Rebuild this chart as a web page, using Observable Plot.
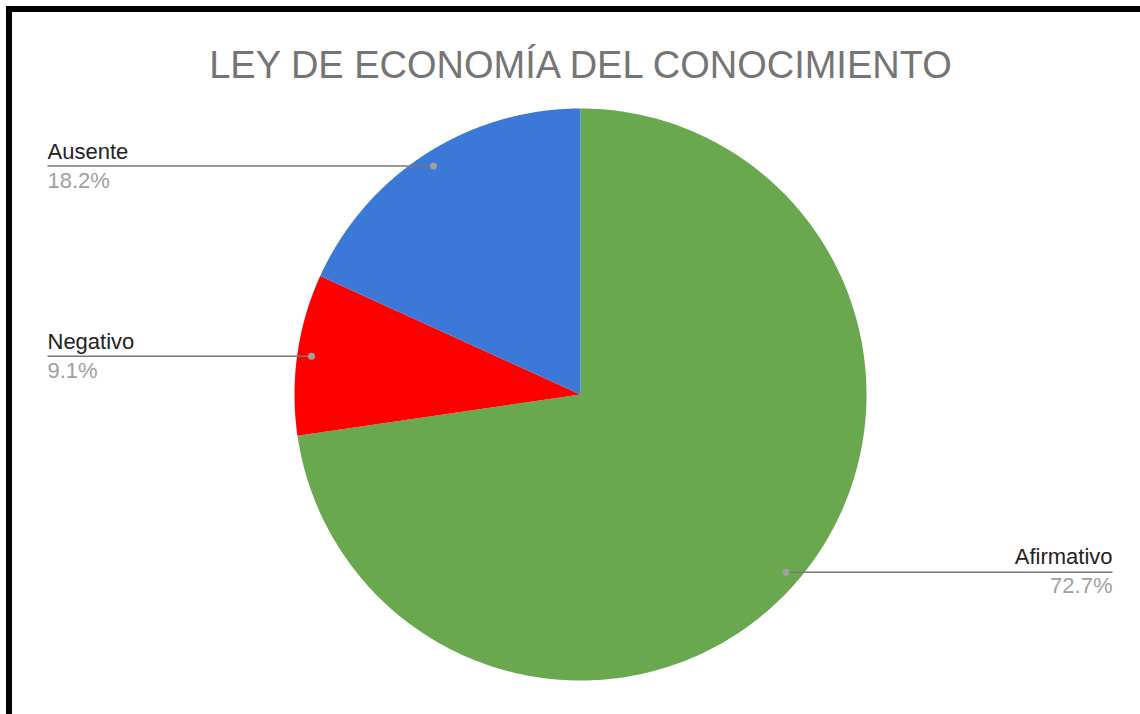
<!DOCTYPE html>
<html>
<head>
<meta charset="utf-8">
<script src="https://cdn.jsdelivr.net/npm/d3@7"></script>
<script src="https://cdn.jsdelivr.net/npm/@observablehq/plot@0.6"></script>
<style>
  html, body { margin: 0; padding: 0; background: #fff; }
  #wrap { position: relative; width: 1140px; height: 714px; overflow: hidden; }
  #wrap svg { position: absolute; left: 0; top: 0; }
  .bt { position: absolute; left: 6px; top: 6px; width: 1200px; height: 6px; background: #000; }
  .bl { position: absolute; left: 6px; top: 6px; width: 6px; height: 800px; background: #000; }
</style>
</head>
<body>
<div id="wrap"><div class="bt"></div><div class="bl"></div></div>
<script>
const title = "LEY DE ECONOMÍA DEL CONOCIMIENTO";
const categories = ["Afirmativo", "Negativo", "Ausente"];
const values = [72.7, 9.1, 18.2];
const percentLabels = ["72.7%", "9.1%", "18.2%"];
const colors = ["#6aa84f", "#ff0000", "#3c78d8"];

// layout (pixels)
const CX = 580, CY = 394, R = 286;
const LEFT_LABEL_X = 47, RIGHT_LABEL_X = 1112;
const px2x = p => (p - CX) / R;

const data = categories.map((name, i) => ({name, value: values[i], pct: percentLabels[i], color: colors[i]}));
const arcs = d3.pie().sort(null).value(d => d.value)(data);

const sliceMarks = arcs.map(a => {
  const pts = [[0, 0]];
  const n = 240;
  for (let k = 0; k <= n; k++) {
    const t = a.startAngle + (a.endAngle - a.startAngle) * k / n;
    pts.push([Math.sin(t), Math.cos(t)]);
  }
  pts.push([0, 0]);
  return Plot.line(pts, {x: d => d[0], y: d => d[1], fill: a.data.color, stroke: "none", curve: "linear"});
});

const labels = arcs.map(a => {
  const mid = (a.startAngle + a.endAngle) / 2;
  const ax = 0.95 * Math.sin(mid), ay = 0.95 * Math.cos(mid);
  const left = ax < 0;
  return {name: a.data.name, pct: a.data.pct, ax, ay, left, tx: px2x(left ? LEFT_LABEL_X : RIGHT_LABEL_X)};
});
const leftL = labels.filter(d => d.left), rightL = labels.filter(d => !d.left);

const font = "'Liberation Sans', Arial, sans-serif";

const chart = Plot.plot({
  width: 1140,
  height: 714,
  margin: 0,
  x: {domain: [-1, 1], range: [CX - R, CX + R], axis: null},
  y: {domain: [-1, 1], range: [CY + R, CY - R], axis: null},
  style: {fontFamily: font, background: "transparent"},
  marks: [
    ...sliceMarks,
    Plot.link(labels, {x1: "tx", y1: "ay", x2: "ax", y2: "ay", stroke: "#777", strokeWidth: 1.6}),
    Plot.dot(labels, {x: "ax", y: "ay", r: 3.5, fill: "#a0a0a0", stroke: "none"}),
    Plot.text(leftL, {x: "tx", y: "ay", text: "name", textAnchor: "start", lineAnchor: "bottom", dy: -7, fontSize: 22, fill: "#222"}),
    Plot.text(leftL, {x: "tx", y: "ay", text: "pct", textAnchor: "start", lineAnchor: "bottom", dy: 22, fontSize: 22, fill: "#a0a0a0"}),
    Plot.text(rightL, {x: "tx", y: "ay", text: "name", textAnchor: "end", lineAnchor: "bottom", dy: -8, fontSize: 22, fill: "#222"}),
    Plot.text(rightL, {x: "tx", y: "ay", text: "pct", textAnchor: "end", lineAnchor: "bottom", dy: 21, fontSize: 22, fill: "#a0a0a0"}),
    Plot.text([title], {x: () => 0, frameAnchor: "top", lineAnchor: "bottom", dy: 77, text: d => d, fontSize: 38, fill: "#757575"})
  ]
});
document.getElementById("wrap").prepend(chart);
</script>
</body>
</html>
